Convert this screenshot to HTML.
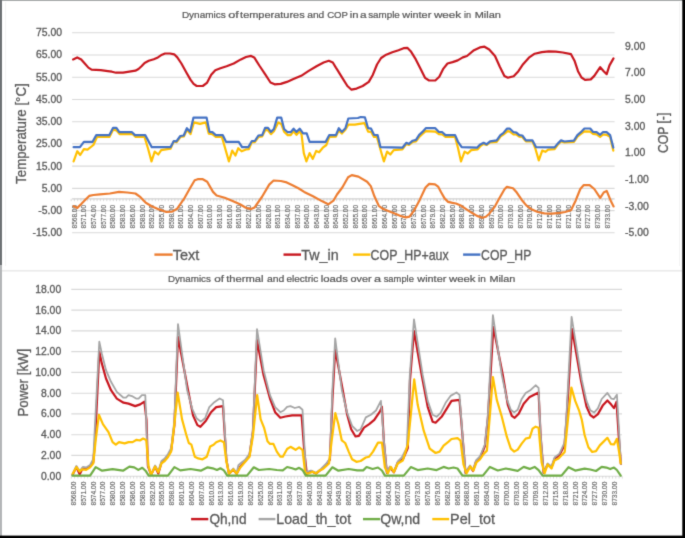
<!DOCTYPE html><html><head><meta charset="utf-8"><style>html,body{margin:0;padding:0;background:#fff;}body{width:685px;height:538px;overflow:hidden;} svg{display:block;} text{font-family:"Liberation Sans", sans-serif;stroke:#595959;stroke-width:0.3px;} text.t{stroke-width:0.24px;} text.c{stroke-width:0.1px;}</style></head><body>
<svg width="685" height="538" viewBox="0 0 685 538">
<defs><filter id="bl" x="0" y="0" width="685" height="538" filterUnits="userSpaceOnUse" color-interpolation-filters="sRGB"><feConvolveMatrix order="3" kernelMatrix="1 6 1 6 36 6 1 6 1" divisor="64" edgeMode="duplicate"/></filter></defs><g filter="url(#bl)">
<rect x="0" y="0" width="685" height="538" fill="#ffffff"/>
<line x1="5.6" y1="2" x2="5.6" y2="266" stroke="#f4f4f4" stroke-width="1"/>
<line x1="679.5" y1="2" x2="679.5" y2="266" stroke="#f3f3f3" stroke-width="1"/>
<line x1="72.1" y1="32.8" x2="614.6" y2="32.8" stroke="#d9d9d9" stroke-width="1.1"/>
<line x1="72.1" y1="55.0" x2="614.6" y2="55.0" stroke="#d9d9d9" stroke-width="1.1"/>
<line x1="72.1" y1="77.2" x2="614.6" y2="77.2" stroke="#d9d9d9" stroke-width="1.1"/>
<line x1="72.1" y1="99.5" x2="614.6" y2="99.5" stroke="#d9d9d9" stroke-width="1.1"/>
<line x1="72.1" y1="121.7" x2="614.6" y2="121.7" stroke="#d9d9d9" stroke-width="1.1"/>
<line x1="72.1" y1="143.9" x2="614.6" y2="143.9" stroke="#d9d9d9" stroke-width="1.1"/>
<line x1="72.1" y1="166.1" x2="614.6" y2="166.1" stroke="#d9d9d9" stroke-width="1.1"/>
<line x1="72.1" y1="188.4" x2="614.6" y2="188.4" stroke="#d9d9d9" stroke-width="1.1"/>
<line x1="72.1" y1="210.6" x2="614.6" y2="210.6" stroke="#d9d9d9" stroke-width="1.1"/>
<line x1="72.1" y1="232.8" x2="614.6" y2="232.8" stroke="#d9d9d9" stroke-width="1.1"/>
<line x1="72.1" y1="198.8" x2="614.6" y2="198.8" stroke="#d0d0d0" stroke-width="1.2"/>
<path d="M71.2 198.8V201.2M74.4 198.8V201.2M77.7 198.8V201.2M80.9 198.8V201.2M84.2 198.8V201.2M87.4 198.8V201.2M90.6 198.8V201.2M93.9 198.8V201.2M97.1 198.8V201.2M100.3 198.8V201.2M103.6 198.8V201.2M106.8 198.8V201.2M110.1 198.8V201.2M113.3 198.8V201.2M116.5 198.8V201.2M119.8 198.8V201.2M123.0 198.8V201.2M126.2 198.8V201.2M129.5 198.8V201.2M132.7 198.8V201.2M136.0 198.8V201.2M139.2 198.8V201.2M142.4 198.8V201.2M145.7 198.8V201.2M148.9 198.8V201.2M152.2 198.8V201.2M155.4 198.8V201.2M158.6 198.8V201.2M161.9 198.8V201.2M165.1 198.8V201.2M168.3 198.8V201.2M171.6 198.8V201.2M174.8 198.8V201.2M178.1 198.8V201.2M181.3 198.8V201.2M184.5 198.8V201.2M187.8 198.8V201.2M191.0 198.8V201.2M194.2 198.8V201.2M197.5 198.8V201.2M200.7 198.8V201.2M204.0 198.8V201.2M207.2 198.8V201.2M210.4 198.8V201.2M213.7 198.8V201.2M216.9 198.8V201.2M220.1 198.8V201.2M223.4 198.8V201.2M226.6 198.8V201.2M229.9 198.8V201.2M233.1 198.8V201.2M236.3 198.8V201.2M239.6 198.8V201.2M242.8 198.8V201.2M246.1 198.8V201.2M249.3 198.8V201.2M252.5 198.8V201.2M255.8 198.8V201.2M259.0 198.8V201.2M262.2 198.8V201.2M265.5 198.8V201.2M268.7 198.8V201.2M272.0 198.8V201.2M275.2 198.8V201.2M278.4 198.8V201.2M281.7 198.8V201.2M284.9 198.8V201.2M288.1 198.8V201.2M291.4 198.8V201.2M294.6 198.8V201.2M297.9 198.8V201.2M301.1 198.8V201.2M304.3 198.8V201.2M307.6 198.8V201.2M310.8 198.8V201.2M314.1 198.8V201.2M317.3 198.8V201.2M320.5 198.8V201.2M323.8 198.8V201.2M327.0 198.8V201.2M330.2 198.8V201.2M333.5 198.8V201.2M336.7 198.8V201.2M340.0 198.8V201.2M343.2 198.8V201.2M346.4 198.8V201.2M349.7 198.8V201.2M352.9 198.8V201.2M356.1 198.8V201.2M359.4 198.8V201.2M362.6 198.8V201.2M365.9 198.8V201.2M369.1 198.8V201.2M372.3 198.8V201.2M375.6 198.8V201.2M378.8 198.8V201.2M382.0 198.8V201.2M385.3 198.8V201.2M388.5 198.8V201.2M391.8 198.8V201.2M395.0 198.8V201.2M398.2 198.8V201.2M401.5 198.8V201.2M404.7 198.8V201.2M408.0 198.8V201.2M411.2 198.8V201.2M414.4 198.8V201.2M417.7 198.8V201.2M420.9 198.8V201.2M424.1 198.8V201.2M427.4 198.8V201.2M430.6 198.8V201.2M433.9 198.8V201.2M437.1 198.8V201.2M440.3 198.8V201.2M443.6 198.8V201.2M446.8 198.8V201.2M450.0 198.8V201.2M453.3 198.8V201.2M456.5 198.8V201.2M459.8 198.8V201.2M463.0 198.8V201.2M466.2 198.8V201.2M469.5 198.8V201.2M472.7 198.8V201.2M475.9 198.8V201.2M479.2 198.8V201.2M482.4 198.8V201.2M485.7 198.8V201.2M488.9 198.8V201.2M492.1 198.8V201.2M495.4 198.8V201.2M498.6 198.8V201.2M501.9 198.8V201.2M505.1 198.8V201.2M508.3 198.8V201.2M511.6 198.8V201.2M514.8 198.8V201.2M518.0 198.8V201.2M521.3 198.8V201.2M524.5 198.8V201.2M527.8 198.8V201.2M531.0 198.8V201.2M534.2 198.8V201.2M537.5 198.8V201.2M540.7 198.8V201.2M543.9 198.8V201.2M547.2 198.8V201.2M550.4 198.8V201.2M553.7 198.8V201.2M556.9 198.8V201.2M560.1 198.8V201.2M563.4 198.8V201.2M566.6 198.8V201.2M569.9 198.8V201.2M573.1 198.8V201.2M576.3 198.8V201.2M579.6 198.8V201.2M582.8 198.8V201.2M586.0 198.8V201.2M589.3 198.8V201.2M592.5 198.8V201.2M595.8 198.8V201.2M599.0 198.8V201.2M602.2 198.8V201.2M605.5 198.8V201.2M608.7 198.8V201.2M611.9 198.8V201.2" stroke="#d0d0d0" stroke-width="0.8"/>
<text x="62" y="36.2" font-size="10.4" text-anchor="end" fill="#595959">75.00</text>
<text x="62" y="58.4" font-size="10.4" text-anchor="end" fill="#595959">65.00</text>
<text x="62" y="80.6" font-size="10.4" text-anchor="end" fill="#595959">55.00</text>
<text x="62" y="102.9" font-size="10.4" text-anchor="end" fill="#595959">45.00</text>
<text x="62" y="125.1" font-size="10.4" text-anchor="end" fill="#595959">35.00</text>
<text x="62" y="147.3" font-size="10.4" text-anchor="end" fill="#595959">25.00</text>
<text x="62" y="169.5" font-size="10.4" text-anchor="end" fill="#595959">15.00</text>
<text x="62" y="191.8" font-size="10.4" text-anchor="end" fill="#595959">5.00</text>
<text x="62" y="214.0" font-size="10.4" text-anchor="end" fill="#595959">-5.00</text>
<text x="62" y="236.2" font-size="10.4" text-anchor="end" fill="#595959">-15.00</text>
<text x="625" y="49.5" font-size="10.4" text-anchor="start" fill="#595959">9.00</text>
<text x="625" y="76.2" font-size="10.4" text-anchor="start" fill="#595959">7.00</text>
<text x="625" y="102.9" font-size="10.4" text-anchor="start" fill="#595959">5.00</text>
<text x="625" y="129.5" font-size="10.4" text-anchor="start" fill="#595959">3.00</text>
<text x="625" y="156.2" font-size="10.4" text-anchor="start" fill="#595959">1.00</text>
<text x="625" y="182.9" font-size="10.4" text-anchor="start" fill="#595959">-1.00</text>
<text x="625" y="209.5" font-size="10.4" text-anchor="start" fill="#595959">-3.00</text>
<text x="625" y="236.2" font-size="10.4" text-anchor="start" fill="#595959">-5.00</text>
<text transform="translate(76.70,228.5) rotate(-90)" font-size="6.6" textLength="23.6" lengthAdjust="spacingAndGlyphs" class="c" fill="#595959">8568.00</text><text transform="translate(86.39,228.5) rotate(-90)" font-size="6.6" textLength="23.6" lengthAdjust="spacingAndGlyphs" class="c" fill="#595959">8571.00</text><text transform="translate(96.09,228.5) rotate(-90)" font-size="6.6" textLength="23.6" lengthAdjust="spacingAndGlyphs" class="c" fill="#595959">8574.00</text><text transform="translate(105.78,228.5) rotate(-90)" font-size="6.6" textLength="23.6" lengthAdjust="spacingAndGlyphs" class="c" fill="#595959">8577.00</text><text transform="translate(115.47,228.5) rotate(-90)" font-size="6.6" textLength="23.6" lengthAdjust="spacingAndGlyphs" class="c" fill="#595959">8580.00</text><text transform="translate(125.17,228.5) rotate(-90)" font-size="6.6" textLength="23.6" lengthAdjust="spacingAndGlyphs" class="c" fill="#595959">8583.00</text><text transform="translate(134.86,228.5) rotate(-90)" font-size="6.6" textLength="23.6" lengthAdjust="spacingAndGlyphs" class="c" fill="#595959">8586.00</text><text transform="translate(144.55,228.5) rotate(-90)" font-size="6.6" textLength="23.6" lengthAdjust="spacingAndGlyphs" class="c" fill="#595959">8589.00</text><text transform="translate(154.24,228.5) rotate(-90)" font-size="6.6" textLength="23.6" lengthAdjust="spacingAndGlyphs" class="c" fill="#595959">8592.00</text><text transform="translate(163.94,228.5) rotate(-90)" font-size="6.6" textLength="23.6" lengthAdjust="spacingAndGlyphs" class="c" fill="#595959">8595.00</text><text transform="translate(173.63,228.5) rotate(-90)" font-size="6.6" textLength="23.6" lengthAdjust="spacingAndGlyphs" class="c" fill="#595959">8598.00</text><text transform="translate(183.32,228.5) rotate(-90)" font-size="6.6" textLength="23.6" lengthAdjust="spacingAndGlyphs" class="c" fill="#595959">8601.00</text><text transform="translate(193.02,228.5) rotate(-90)" font-size="6.6" textLength="23.6" lengthAdjust="spacingAndGlyphs" class="c" fill="#595959">8604.00</text><text transform="translate(202.71,228.5) rotate(-90)" font-size="6.6" textLength="23.6" lengthAdjust="spacingAndGlyphs" class="c" fill="#595959">8607.00</text><text transform="translate(212.40,228.5) rotate(-90)" font-size="6.6" textLength="23.6" lengthAdjust="spacingAndGlyphs" class="c" fill="#595959">8610.00</text><text transform="translate(222.09,228.5) rotate(-90)" font-size="6.6" textLength="23.6" lengthAdjust="spacingAndGlyphs" class="c" fill="#595959">8613.00</text><text transform="translate(231.79,228.5) rotate(-90)" font-size="6.6" textLength="23.6" lengthAdjust="spacingAndGlyphs" class="c" fill="#595959">8616.00</text><text transform="translate(241.48,228.5) rotate(-90)" font-size="6.6" textLength="23.6" lengthAdjust="spacingAndGlyphs" class="c" fill="#595959">8619.00</text><text transform="translate(251.17,228.5) rotate(-90)" font-size="6.6" textLength="23.6" lengthAdjust="spacingAndGlyphs" class="c" fill="#595959">8622.00</text><text transform="translate(260.87,228.5) rotate(-90)" font-size="6.6" textLength="23.6" lengthAdjust="spacingAndGlyphs" class="c" fill="#595959">8625.00</text><text transform="translate(270.56,228.5) rotate(-90)" font-size="6.6" textLength="23.6" lengthAdjust="spacingAndGlyphs" class="c" fill="#595959">8628.00</text><text transform="translate(280.25,228.5) rotate(-90)" font-size="6.6" textLength="23.6" lengthAdjust="spacingAndGlyphs" class="c" fill="#595959">8631.00</text><text transform="translate(289.95,228.5) rotate(-90)" font-size="6.6" textLength="23.6" lengthAdjust="spacingAndGlyphs" class="c" fill="#595959">8634.00</text><text transform="translate(299.64,228.5) rotate(-90)" font-size="6.6" textLength="23.6" lengthAdjust="spacingAndGlyphs" class="c" fill="#595959">8637.00</text><text transform="translate(309.33,228.5) rotate(-90)" font-size="6.6" textLength="23.6" lengthAdjust="spacingAndGlyphs" class="c" fill="#595959">8640.00</text><text transform="translate(319.03,228.5) rotate(-90)" font-size="6.6" textLength="23.6" lengthAdjust="spacingAndGlyphs" class="c" fill="#595959">8643.00</text><text transform="translate(328.72,228.5) rotate(-90)" font-size="6.6" textLength="23.6" lengthAdjust="spacingAndGlyphs" class="c" fill="#595959">8646.00</text><text transform="translate(338.41,228.5) rotate(-90)" font-size="6.6" textLength="23.6" lengthAdjust="spacingAndGlyphs" class="c" fill="#595959">8649.00</text><text transform="translate(348.10,228.5) rotate(-90)" font-size="6.6" textLength="23.6" lengthAdjust="spacingAndGlyphs" class="c" fill="#595959">8652.00</text><text transform="translate(357.80,228.5) rotate(-90)" font-size="6.6" textLength="23.6" lengthAdjust="spacingAndGlyphs" class="c" fill="#595959">8655.00</text><text transform="translate(367.49,228.5) rotate(-90)" font-size="6.6" textLength="23.6" lengthAdjust="spacingAndGlyphs" class="c" fill="#595959">8658.00</text><text transform="translate(377.18,228.5) rotate(-90)" font-size="6.6" textLength="23.6" lengthAdjust="spacingAndGlyphs" class="c" fill="#595959">8661.00</text><text transform="translate(386.88,228.5) rotate(-90)" font-size="6.6" textLength="23.6" lengthAdjust="spacingAndGlyphs" class="c" fill="#595959">8664.00</text><text transform="translate(396.57,228.5) rotate(-90)" font-size="6.6" textLength="23.6" lengthAdjust="spacingAndGlyphs" class="c" fill="#595959">8667.00</text><text transform="translate(406.26,228.5) rotate(-90)" font-size="6.6" textLength="23.6" lengthAdjust="spacingAndGlyphs" class="c" fill="#595959">8670.00</text><text transform="translate(415.95,228.5) rotate(-90)" font-size="6.6" textLength="23.6" lengthAdjust="spacingAndGlyphs" class="c" fill="#595959">8673.00</text><text transform="translate(425.65,228.5) rotate(-90)" font-size="6.6" textLength="23.6" lengthAdjust="spacingAndGlyphs" class="c" fill="#595959">8676.00</text><text transform="translate(435.34,228.5) rotate(-90)" font-size="6.6" textLength="23.6" lengthAdjust="spacingAndGlyphs" class="c" fill="#595959">8679.00</text><text transform="translate(445.03,228.5) rotate(-90)" font-size="6.6" textLength="23.6" lengthAdjust="spacingAndGlyphs" class="c" fill="#595959">8682.00</text><text transform="translate(454.73,228.5) rotate(-90)" font-size="6.6" textLength="23.6" lengthAdjust="spacingAndGlyphs" class="c" fill="#595959">8685.00</text><text transform="translate(464.42,228.5) rotate(-90)" font-size="6.6" textLength="23.6" lengthAdjust="spacingAndGlyphs" class="c" fill="#595959">8688.00</text><text transform="translate(474.11,228.5) rotate(-90)" font-size="6.6" textLength="23.6" lengthAdjust="spacingAndGlyphs" class="c" fill="#595959">8691.00</text><text transform="translate(483.81,228.5) rotate(-90)" font-size="6.6" textLength="23.6" lengthAdjust="spacingAndGlyphs" class="c" fill="#595959">8694.00</text><text transform="translate(493.50,228.5) rotate(-90)" font-size="6.6" textLength="23.6" lengthAdjust="spacingAndGlyphs" class="c" fill="#595959">8697.00</text><text transform="translate(503.19,228.5) rotate(-90)" font-size="6.6" textLength="23.6" lengthAdjust="spacingAndGlyphs" class="c" fill="#595959">8700.00</text><text transform="translate(512.88,228.5) rotate(-90)" font-size="6.6" textLength="23.6" lengthAdjust="spacingAndGlyphs" class="c" fill="#595959">8703.00</text><text transform="translate(522.58,228.5) rotate(-90)" font-size="6.6" textLength="23.6" lengthAdjust="spacingAndGlyphs" class="c" fill="#595959">8706.00</text><text transform="translate(532.27,228.5) rotate(-90)" font-size="6.6" textLength="23.6" lengthAdjust="spacingAndGlyphs" class="c" fill="#595959">8709.00</text><text transform="translate(541.96,228.5) rotate(-90)" font-size="6.6" textLength="23.6" lengthAdjust="spacingAndGlyphs" class="c" fill="#595959">8712.00</text><text transform="translate(551.66,228.5) rotate(-90)" font-size="6.6" textLength="23.6" lengthAdjust="spacingAndGlyphs" class="c" fill="#595959">8715.00</text><text transform="translate(561.35,228.5) rotate(-90)" font-size="6.6" textLength="23.6" lengthAdjust="spacingAndGlyphs" class="c" fill="#595959">8718.00</text><text transform="translate(571.04,228.5) rotate(-90)" font-size="6.6" textLength="23.6" lengthAdjust="spacingAndGlyphs" class="c" fill="#595959">8721.00</text><text transform="translate(580.74,228.5) rotate(-90)" font-size="6.6" textLength="23.6" lengthAdjust="spacingAndGlyphs" class="c" fill="#595959">8724.00</text><text transform="translate(590.43,228.5) rotate(-90)" font-size="6.6" textLength="23.6" lengthAdjust="spacingAndGlyphs" class="c" fill="#595959">8727.00</text><text transform="translate(600.12,228.5) rotate(-90)" font-size="6.6" textLength="23.6" lengthAdjust="spacingAndGlyphs" class="c" fill="#595959">8730.00</text><text transform="translate(609.81,228.5) rotate(-90)" font-size="6.6" textLength="23.6" lengthAdjust="spacingAndGlyphs" class="c" fill="#595959">8733.00</text>
<polyline points="73.6,206.2 77.3,207.9 81.0,204.3 85.1,200.1 89.2,195.9 93.4,195.0 100.0,194.4 109.9,193.5 119.0,191.9 127.2,192.5 135.4,193.5 140.5,197.2 145.8,202.8 151.7,206.2 159.0,209.4 166.3,212.0 172.1,211.6 177.2,208.7 183.8,199.2 190.4,187.5 194.7,180.2 197.7,179.2 202.8,179.2 207.2,181.7 213.0,191.9 216.6,195.5 224.7,197.7 232.0,200.7 240.0,204.3 245.8,207.7 251.0,209.1 254.6,207.4 261.9,197.0 269.2,184.6 273.6,180.5 280.9,181.0 286.7,182.4 292.5,185.2 298.4,188.2 304.2,191.9 313.0,196.3 321.8,201.1 328.3,204.3 333.4,200.7 337.0,194.5 342.3,187.5 348.1,177.3 351.8,175.1 358.4,176.6 367.1,181.7 370.8,186.1 374.4,196.3 378.8,205.8 383.2,209.1 393.4,213.1 400.7,216.0 405.8,217.4 409.5,216.7 413.8,210.9 419.7,199.9 425.5,187.5 429.2,183.9 435.0,184.4 438.1,186.6 441.1,192.3 444.6,198.4 448.1,201.9 452.5,202.9 456.0,203.5 461.3,205.8 466.5,209.3 471.8,212.8 477.0,215.9 482.3,217.8 485.8,216.8 489.3,213.7 495.0,206.3 498.5,199.8 504.5,189.2 506.9,186.9 513.0,188.3 516.8,192.6 521.6,199.7 526.3,205.4 532.0,209.6 537.7,212.0 544.3,213.4 551.9,213.7 560.0,212.8 565.1,212.0 571.0,210.3 575.6,200.7 580.3,189.0 583.8,185.1 589.6,185.1 594.3,189.0 600.2,197.9 603.7,192.5 606.7,190.9 610.7,200.7 613.6,206.4" fill="none" stroke="#ED7D31" stroke-width="2.2" stroke-linejoin="round" stroke-linecap="round"/>
<polyline points="73.1,59.4 77.2,57.4 81.2,59.4 84.3,62.9 88.4,67.6 91.5,69.6 100.7,70.2 107.8,71.1 111.9,71.7 116.0,72.7 123.1,72.7 129.3,71.7 135.4,70.7 138.5,69.0 141.5,66.2 144.6,62.9 148.7,60.8 153.8,59.2 157.9,57.4 162.0,54.7 165.0,53.5 170.1,53.5 174.2,54.3 177.3,57.4 181.4,63.5 186.5,72.7 190.6,79.9 193.6,83.9 196.7,86.0 202.8,86.0 206.9,82.9 211.2,74.7 215.3,70.2 220.4,68.2 226.6,66.2 233.7,63.5 240.9,59.4 246.0,57.0 251.1,55.9 254.2,57.4 259.3,65.5 265.4,74.7 270.5,82.5 274.6,84.3 280.7,83.9 286.9,81.9 294.0,78.8 301.2,75.8 308.3,71.1 316.5,66.2 323.6,62.5 328.8,60.8 332.8,62.5 335.9,67.6 337.2,69.6 342.3,77.8 347.4,86.0 351.5,89.7 356.6,88.6 362.7,86.0 368.8,81.9 372.9,74.7 377.0,64.5 381.1,58.0 386.2,54.7 392.3,52.3 398.5,50.2 403.6,48.2 407.3,47.8 410.7,51.2 415.8,59.4 420.9,69.6 425.0,77.8 429.1,80.5 435.3,80.5 439.3,76.8 443.4,68.6 447.5,63.5 452.6,62.1 457.7,60.4 462.8,57.4 467.0,56.0 474.0,50.2 479.9,47.4 484.5,46.7 489.2,49.5 495.0,56.0 499.7,66.5 504.4,75.9 507.9,77.7 513.7,76.3 518.4,71.2 523.1,64.2 528.9,57.7 534.7,53.7 541.8,52.1 548.8,51.4 555.8,51.6 562.8,52.5 571.0,54.2 574.5,60.7 578.0,71.2 581.5,77.5 585.0,79.8 590.8,79.4 594.3,75.9 600.2,67.2 603.7,71.2 606.7,74.2 609.5,65.4 613.5,58.4" fill="none" stroke="#C8161E" stroke-width="2.2" stroke-linejoin="round" stroke-linecap="round"/>
<polyline points="73.6,161.4 77.3,151.2 80.2,155.0 83.9,149.1 87.5,149.7 93.4,145.0 97.0,137.0 109.4,137.0 113.1,129.7 116.4,130.4 119.6,134.1 132.8,134.1 135.7,137.0 144.5,137.0 148.1,148.7 151.5,161.4 154.7,151.6 158.3,154.5 161.2,150.1 170.5,148.7 173.8,141.4 176.7,142.1 180.3,137.0 184.0,136.3 186.9,129.7 190.5,134.1 193.9,122.4 200.0,123.9 205.9,122.4 208.8,133.6 212.4,134.1 215.8,137.0 221.9,137.0 228.9,161.4 232.2,150.6 235.4,155.5 238.3,148.2 241.6,151.3 246.0,149.4 248.9,149.1 251.9,141.8 254.8,142.1 258.4,137.0 262.2,136.3 265.5,129.7 268.0,130.4 270.9,134.1 273.9,131.2 278.2,122.4 281.2,123.9 284.1,131.6 287.7,135.1 290.7,135.1 293.6,131.2 296.5,134.8 299.7,131.2 301.6,134.8 303.8,153.1 306.4,161.4 309.6,153.1 312.8,158.9 316.2,150.9 319.1,152.3 322.8,147.7 326.4,145.0 329.3,137.0 335.9,136.6 338.8,130.4 341.8,133.6 345.4,129.7 348.3,124.6 354.9,124.6 359.4,123.9 364.5,123.1 368.1,131.6 371.1,131.9 374.0,137.0 376.9,137.0 380.5,149.7 383.9,161.4 387.1,151.6 390.3,154.5 393.7,150.1 402.4,149.4 406.4,143.9 409.0,145.0 412.7,141.8 416.0,141.4 419.2,137.0 422.2,134.1 425.8,131.2 435.3,131.6 438.9,134.1 442.3,134.5 445.5,137.0 452.8,137.0 455.1,137.0 458.0,148.0 461.0,161.4 464.6,151.6 467.8,153.5 471.2,150.1 477.7,149.4 480.7,145.8 483.6,143.9 486.5,145.0 490.1,142.4 496.7,141.8 500.4,136.6 504.0,134.1 507.7,131.2 509.9,131.6 513.5,134.5 516.4,134.5 519.3,136.6 522.3,137.0 525.9,141.4 532.5,141.4 535.4,148.7 538.8,160.4 542.2,150.6 545.4,151.8 548.2,149.7 554.6,149.1 557.5,145.0 561.0,141.5 564.5,142.5 573.9,141.8 577.4,136.6 580.9,133.9 584.4,131.3 590.2,131.6 593.1,133.9 596.6,134.3 600.1,136.9 603.1,134.5 606.6,134.8 610.1,136.9 613.3,150.6" fill="none" stroke="#FFC000" stroke-width="2.2" stroke-linejoin="round" stroke-linecap="round"/>
<polyline points="73.6,147.2 79.9,147.2 83.9,141.8 92.6,141.8 96.3,135.1 109.4,135.1 113.1,127.8 116.4,127.8 119.3,132.2 132.0,132.2 135.0,135.1 145.2,135.1 151.8,147.2 170.5,147.2 173.8,141.0 176.4,141.4 180.3,136.0 183.7,135.5 186.9,128.2 190.1,131.9 193.5,117.6 206.6,117.6 209.5,131.9 212.4,132.2 215.8,135.1 222.7,135.1 226.0,141.8 238.7,141.8 242.1,147.2 248.2,147.2 251.9,141.0 254.8,141.0 258.4,135.5 262.2,135.1 265.1,127.8 268.0,127.8 270.9,131.9 273.9,129.0 277.2,117.6 281.2,117.6 284.1,129.0 287.7,132.2 290.7,132.2 293.6,128.7 296.5,131.9 299.7,128.7 303.1,133.4 306.7,133.4 309.6,141.8 325.7,141.8 329.3,135.1 335.9,135.1 338.8,128.2 341.8,131.9 345.4,128.2 348.3,118.5 357.9,118.0 360.8,117.0 364.9,117.3 368.1,128.2 371.1,128.7 374.0,134.8 377.6,135.1 380.5,147.2 402.4,147.7 406.4,142.8 409.0,143.9 412.7,140.7 416.0,139.9 419.2,134.8 422.2,132.2 425.8,128.2 435.3,128.2 438.9,131.9 442.3,132.2 445.5,135.1 455.1,135.1 458.0,141.8 461.7,147.2 477.0,147.7 479.9,144.7 483.6,142.8 486.5,144.3 490.1,141.4 496.7,140.4 500.4,135.1 503.3,133.1 506.9,128.7 509.9,128.7 513.5,132.2 516.4,132.6 519.3,135.1 522.3,135.5 525.9,140.4 532.5,140.4 536.1,147.2 554.6,147.4 557.5,143.9 561.0,140.4 564.5,141.5 573.9,140.6 577.4,135.1 580.9,132.2 584.4,128.5 590.2,128.5 593.1,132.0 596.6,132.2 600.1,134.8 603.1,132.0 606.6,132.2 610.1,135.1 613.3,147.6" fill="none" stroke="#4472C4" stroke-width="2.2" stroke-linejoin="round" stroke-linecap="round"/>
<text x="181.9" y="17.6" font-size="9.8" text-anchor="start" fill="#595959" textLength="43.9" lengthAdjust="spacingAndGlyphs" class="t">Dynamics</text>
<text x="228.3" y="17.6" font-size="9.8" text-anchor="start" fill="#595959" textLength="10.6" lengthAdjust="spacingAndGlyphs" class="t">of</text>
<text x="240.1" y="17.6" font-size="9.8" text-anchor="start" fill="#595959" textLength="64.6" lengthAdjust="spacingAndGlyphs" class="t">temperatures</text>
<text x="307.2" y="17.6" font-size="9.8" text-anchor="start" fill="#595959" textLength="17.1" lengthAdjust="spacingAndGlyphs" class="t">and</text>
<text x="327.2" y="17.6" font-size="9.8" text-anchor="start" fill="#595959" textLength="20.8" lengthAdjust="spacingAndGlyphs" class="t">COP</text>
<text x="349.8" y="17.6" font-size="9.8" text-anchor="start" fill="#595959" textLength="8.8" lengthAdjust="spacingAndGlyphs" class="t">in</text>
<text x="359.9" y="17.6" font-size="9.8" text-anchor="start" fill="#595959" textLength="6.6" lengthAdjust="spacingAndGlyphs" class="t">a</text>
<text x="368.2" y="17.6" font-size="9.8" text-anchor="start" fill="#595959" textLength="31.6" lengthAdjust="spacingAndGlyphs" class="t">sample</text>
<text x="402.3" y="17.6" font-size="9.8" text-anchor="start" fill="#595959" textLength="29.0" lengthAdjust="spacingAndGlyphs" class="t">winter</text>
<text x="433.9" y="17.6" font-size="9.8" text-anchor="start" fill="#595959" textLength="27.3" lengthAdjust="spacingAndGlyphs" class="t">week</text>
<text x="464.0" y="17.6" font-size="9.8" text-anchor="start" fill="#595959" textLength="7.1" lengthAdjust="spacingAndGlyphs" class="t">in</text>
<text x="474.7" y="17.6" font-size="9.8" text-anchor="start" fill="#595959" textLength="26.2" lengthAdjust="spacingAndGlyphs" class="t">Milan</text>
<text transform="translate(25.9,183.9) rotate(-90)" font-size="14" fill="#595959" textLength="100.6" lengthAdjust="spacingAndGlyphs">Temperature [°C]</text>
<text transform="translate(668.2,153.1) rotate(-90)" font-size="14.5" fill="#595959" textLength="40.4" lengthAdjust="spacingAndGlyphs">COP [-]</text>
<line x1="154.4" y1="254.6" x2="172.6" y2="254.6" stroke="#ED7D31" stroke-width="2.4"/>
<text x="172.8" y="259.6" font-size="14.5" text-anchor="start" fill="#595959" textLength="26.6" lengthAdjust="spacingAndGlyphs">Text</text>
<line x1="283.5" y1="254.6" x2="301.0" y2="254.6" stroke="#C8161E" stroke-width="2.4"/>
<text x="301.3" y="259.6" font-size="14.5" text-anchor="start" fill="#595959" textLength="37.3" lengthAdjust="spacingAndGlyphs">Tw_in</text>
<line x1="353.2" y1="254.6" x2="370.4" y2="254.6" stroke="#FFC000" stroke-width="2.4"/>
<text x="370.6" y="259.6" font-size="14.5" text-anchor="start" fill="#595959" textLength="78.1" lengthAdjust="spacingAndGlyphs">COP_HP+aux</text>
<line x1="463.1" y1="254.6" x2="480.4" y2="254.6" stroke="#4472C4" stroke-width="2.4"/>
<text x="481.1" y="259.6" font-size="14.5" text-anchor="start" fill="#595959" textLength="50.2" lengthAdjust="spacingAndGlyphs">COP_HP</text>
<line x1="71.3" y1="289.4" x2="622.0" y2="289.4" stroke="#d9d9d9" stroke-width="1.1"/>
<line x1="71.3" y1="310.1" x2="622.0" y2="310.1" stroke="#d9d9d9" stroke-width="1.1"/>
<line x1="71.3" y1="330.9" x2="622.0" y2="330.9" stroke="#d9d9d9" stroke-width="1.1"/>
<line x1="71.3" y1="351.6" x2="622.0" y2="351.6" stroke="#d9d9d9" stroke-width="1.1"/>
<line x1="71.3" y1="372.4" x2="622.0" y2="372.4" stroke="#d9d9d9" stroke-width="1.1"/>
<line x1="71.3" y1="393.2" x2="622.0" y2="393.2" stroke="#d9d9d9" stroke-width="1.1"/>
<line x1="71.3" y1="413.9" x2="622.0" y2="413.9" stroke="#d9d9d9" stroke-width="1.1"/>
<line x1="71.3" y1="434.7" x2="622.0" y2="434.7" stroke="#d9d9d9" stroke-width="1.1"/>
<line x1="71.3" y1="455.4" x2="622.0" y2="455.4" stroke="#d9d9d9" stroke-width="1.1"/>
<line x1="71.3" y1="476.2" x2="622.0" y2="476.2" stroke="#d9d9d9" stroke-width="1.1"/>
<path d="M71.3 476.2V478.6M74.6 476.2V478.6M77.9 476.2V478.6M81.1 476.2V478.6M84.4 476.2V478.6M87.7 476.2V478.6M91.0 476.2V478.6M94.3 476.2V478.6M97.5 476.2V478.6M100.8 476.2V478.6M104.1 476.2V478.6M107.4 476.2V478.6M110.7 476.2V478.6M113.9 476.2V478.6M117.2 476.2V478.6M120.5 476.2V478.6M123.8 476.2V478.6M127.1 476.2V478.6M130.3 476.2V478.6M133.6 476.2V478.6M136.9 476.2V478.6M140.2 476.2V478.6M143.5 476.2V478.6M146.7 476.2V478.6M150.0 476.2V478.6M153.3 476.2V478.6M156.6 476.2V478.6M159.9 476.2V478.6M163.1 476.2V478.6M166.4 476.2V478.6M169.7 476.2V478.6M173.0 476.2V478.6M176.3 476.2V478.6M179.5 476.2V478.6M182.8 476.2V478.6M186.1 476.2V478.6M189.4 476.2V478.6M192.7 476.2V478.6M195.9 476.2V478.6M199.2 476.2V478.6M202.5 476.2V478.6M205.8 476.2V478.6M209.1 476.2V478.6M212.3 476.2V478.6M215.6 476.2V478.6M218.9 476.2V478.6M222.2 476.2V478.6M225.5 476.2V478.6M228.7 476.2V478.6M232.0 476.2V478.6M235.3 476.2V478.6M238.6 476.2V478.6M241.9 476.2V478.6M245.1 476.2V478.6M248.4 476.2V478.6M251.7 476.2V478.6M255.0 476.2V478.6M258.3 476.2V478.6M261.5 476.2V478.6M264.8 476.2V478.6M268.1 476.2V478.6M271.4 476.2V478.6M274.7 476.2V478.6M277.9 476.2V478.6M281.2 476.2V478.6M284.5 476.2V478.6M287.8 476.2V478.6M291.1 476.2V478.6M294.3 476.2V478.6M297.6 476.2V478.6M300.9 476.2V478.6M304.2 476.2V478.6M307.5 476.2V478.6M310.7 476.2V478.6M314.0 476.2V478.6M317.3 476.2V478.6M320.6 476.2V478.6M323.9 476.2V478.6M327.1 476.2V478.6M330.4 476.2V478.6M333.7 476.2V478.6M337.0 476.2V478.6M340.3 476.2V478.6M343.5 476.2V478.6M346.8 476.2V478.6M350.1 476.2V478.6M353.4 476.2V478.6M356.7 476.2V478.6M359.9 476.2V478.6M363.2 476.2V478.6M366.5 476.2V478.6M369.8 476.2V478.6M373.1 476.2V478.6M376.3 476.2V478.6M379.6 476.2V478.6M382.9 476.2V478.6M386.2 476.2V478.6M389.5 476.2V478.6M392.7 476.2V478.6M396.0 476.2V478.6M399.3 476.2V478.6M402.6 476.2V478.6M405.9 476.2V478.6M409.1 476.2V478.6M412.4 476.2V478.6M415.7 476.2V478.6M419.0 476.2V478.6M422.3 476.2V478.6M425.5 476.2V478.6M428.8 476.2V478.6M432.1 476.2V478.6M435.4 476.2V478.6M438.7 476.2V478.6M441.9 476.2V478.6M445.2 476.2V478.6M448.5 476.2V478.6M451.8 476.2V478.6M455.1 476.2V478.6M458.3 476.2V478.6M461.6 476.2V478.6M464.9 476.2V478.6M468.2 476.2V478.6M471.5 476.2V478.6M474.7 476.2V478.6M478.0 476.2V478.6M481.3 476.2V478.6M484.6 476.2V478.6M487.9 476.2V478.6M491.1 476.2V478.6M494.4 476.2V478.6M497.7 476.2V478.6M501.0 476.2V478.6M504.3 476.2V478.6M507.5 476.2V478.6M510.8 476.2V478.6M514.1 476.2V478.6M517.4 476.2V478.6M520.7 476.2V478.6M523.9 476.2V478.6M527.2 476.2V478.6M530.5 476.2V478.6M533.8 476.2V478.6M537.1 476.2V478.6M540.3 476.2V478.6M543.6 476.2V478.6M546.9 476.2V478.6M550.2 476.2V478.6M553.5 476.2V478.6M556.7 476.2V478.6M560.0 476.2V478.6M563.3 476.2V478.6M566.6 476.2V478.6M569.9 476.2V478.6M573.1 476.2V478.6M576.4 476.2V478.6M579.7 476.2V478.6M583.0 476.2V478.6M586.3 476.2V478.6M589.5 476.2V478.6M592.8 476.2V478.6M596.1 476.2V478.6M599.4 476.2V478.6M602.7 476.2V478.6M605.9 476.2V478.6M609.2 476.2V478.6M612.5 476.2V478.6M615.8 476.2V478.6M619.1 476.2V478.6M622.3 476.2V478.6" stroke="#d0d0d0" stroke-width="0.8"/>
<text x="61.2" y="292.8" font-size="10.4" text-anchor="end" fill="#595959">18.00</text>
<text x="61.2" y="313.5" font-size="10.4" text-anchor="end" fill="#595959">16.00</text>
<text x="61.2" y="334.3" font-size="10.4" text-anchor="end" fill="#595959">14.00</text>
<text x="61.2" y="355.0" font-size="10.4" text-anchor="end" fill="#595959">12.00</text>
<text x="61.2" y="375.8" font-size="10.4" text-anchor="end" fill="#595959">10.00</text>
<text x="61.2" y="396.6" font-size="10.4" text-anchor="end" fill="#595959">8.00</text>
<text x="61.2" y="417.3" font-size="10.4" text-anchor="end" fill="#595959">6.00</text>
<text x="61.2" y="438.1" font-size="10.4" text-anchor="end" fill="#595959">4.00</text>
<text x="61.2" y="458.8" font-size="10.4" text-anchor="end" fill="#595959">2.00</text>
<text x="61.2" y="479.6" font-size="10.4" text-anchor="end" fill="#595959">0.00</text>
<text transform="translate(75.90,505.5) rotate(-90)" font-size="6.6" textLength="23.8" lengthAdjust="spacingAndGlyphs" class="c" fill="#595959">8568.00</text><text transform="translate(85.74,505.5) rotate(-90)" font-size="6.6" textLength="23.8" lengthAdjust="spacingAndGlyphs" class="c" fill="#595959">8571.00</text><text transform="translate(95.57,505.5) rotate(-90)" font-size="6.6" textLength="23.8" lengthAdjust="spacingAndGlyphs" class="c" fill="#595959">8574.00</text><text transform="translate(105.41,505.5) rotate(-90)" font-size="6.6" textLength="23.8" lengthAdjust="spacingAndGlyphs" class="c" fill="#595959">8577.00</text><text transform="translate(115.24,505.5) rotate(-90)" font-size="6.6" textLength="23.8" lengthAdjust="spacingAndGlyphs" class="c" fill="#595959">8580.00</text><text transform="translate(125.08,505.5) rotate(-90)" font-size="6.6" textLength="23.8" lengthAdjust="spacingAndGlyphs" class="c" fill="#595959">8583.00</text><text transform="translate(134.92,505.5) rotate(-90)" font-size="6.6" textLength="23.8" lengthAdjust="spacingAndGlyphs" class="c" fill="#595959">8586.00</text><text transform="translate(144.75,505.5) rotate(-90)" font-size="6.6" textLength="23.8" lengthAdjust="spacingAndGlyphs" class="c" fill="#595959">8589.00</text><text transform="translate(154.59,505.5) rotate(-90)" font-size="6.6" textLength="23.8" lengthAdjust="spacingAndGlyphs" class="c" fill="#595959">8592.00</text><text transform="translate(164.42,505.5) rotate(-90)" font-size="6.6" textLength="23.8" lengthAdjust="spacingAndGlyphs" class="c" fill="#595959">8595.00</text><text transform="translate(174.26,505.5) rotate(-90)" font-size="6.6" textLength="23.8" lengthAdjust="spacingAndGlyphs" class="c" fill="#595959">8598.00</text><text transform="translate(184.10,505.5) rotate(-90)" font-size="6.6" textLength="23.8" lengthAdjust="spacingAndGlyphs" class="c" fill="#595959">8601.00</text><text transform="translate(193.93,505.5) rotate(-90)" font-size="6.6" textLength="23.8" lengthAdjust="spacingAndGlyphs" class="c" fill="#595959">8604.00</text><text transform="translate(203.77,505.5) rotate(-90)" font-size="6.6" textLength="23.8" lengthAdjust="spacingAndGlyphs" class="c" fill="#595959">8607.00</text><text transform="translate(213.60,505.5) rotate(-90)" font-size="6.6" textLength="23.8" lengthAdjust="spacingAndGlyphs" class="c" fill="#595959">8610.00</text><text transform="translate(223.44,505.5) rotate(-90)" font-size="6.6" textLength="23.8" lengthAdjust="spacingAndGlyphs" class="c" fill="#595959">8613.00</text><text transform="translate(233.28,505.5) rotate(-90)" font-size="6.6" textLength="23.8" lengthAdjust="spacingAndGlyphs" class="c" fill="#595959">8616.00</text><text transform="translate(243.11,505.5) rotate(-90)" font-size="6.6" textLength="23.8" lengthAdjust="spacingAndGlyphs" class="c" fill="#595959">8619.00</text><text transform="translate(252.95,505.5) rotate(-90)" font-size="6.6" textLength="23.8" lengthAdjust="spacingAndGlyphs" class="c" fill="#595959">8622.00</text><text transform="translate(262.78,505.5) rotate(-90)" font-size="6.6" textLength="23.8" lengthAdjust="spacingAndGlyphs" class="c" fill="#595959">8625.00</text><text transform="translate(272.62,505.5) rotate(-90)" font-size="6.6" textLength="23.8" lengthAdjust="spacingAndGlyphs" class="c" fill="#595959">8628.00</text><text transform="translate(282.46,505.5) rotate(-90)" font-size="6.6" textLength="23.8" lengthAdjust="spacingAndGlyphs" class="c" fill="#595959">8631.00</text><text transform="translate(292.29,505.5) rotate(-90)" font-size="6.6" textLength="23.8" lengthAdjust="spacingAndGlyphs" class="c" fill="#595959">8634.00</text><text transform="translate(302.13,505.5) rotate(-90)" font-size="6.6" textLength="23.8" lengthAdjust="spacingAndGlyphs" class="c" fill="#595959">8637.00</text><text transform="translate(311.96,505.5) rotate(-90)" font-size="6.6" textLength="23.8" lengthAdjust="spacingAndGlyphs" class="c" fill="#595959">8640.00</text><text transform="translate(321.80,505.5) rotate(-90)" font-size="6.6" textLength="23.8" lengthAdjust="spacingAndGlyphs" class="c" fill="#595959">8643.00</text><text transform="translate(331.64,505.5) rotate(-90)" font-size="6.6" textLength="23.8" lengthAdjust="spacingAndGlyphs" class="c" fill="#595959">8646.00</text><text transform="translate(341.47,505.5) rotate(-90)" font-size="6.6" textLength="23.8" lengthAdjust="spacingAndGlyphs" class="c" fill="#595959">8649.00</text><text transform="translate(351.31,505.5) rotate(-90)" font-size="6.6" textLength="23.8" lengthAdjust="spacingAndGlyphs" class="c" fill="#595959">8652.00</text><text transform="translate(361.14,505.5) rotate(-90)" font-size="6.6" textLength="23.8" lengthAdjust="spacingAndGlyphs" class="c" fill="#595959">8655.00</text><text transform="translate(370.98,505.5) rotate(-90)" font-size="6.6" textLength="23.8" lengthAdjust="spacingAndGlyphs" class="c" fill="#595959">8658.00</text><text transform="translate(380.82,505.5) rotate(-90)" font-size="6.6" textLength="23.8" lengthAdjust="spacingAndGlyphs" class="c" fill="#595959">8661.00</text><text transform="translate(390.65,505.5) rotate(-90)" font-size="6.6" textLength="23.8" lengthAdjust="spacingAndGlyphs" class="c" fill="#595959">8664.00</text><text transform="translate(400.49,505.5) rotate(-90)" font-size="6.6" textLength="23.8" lengthAdjust="spacingAndGlyphs" class="c" fill="#595959">8667.00</text><text transform="translate(410.32,505.5) rotate(-90)" font-size="6.6" textLength="23.8" lengthAdjust="spacingAndGlyphs" class="c" fill="#595959">8670.00</text><text transform="translate(420.16,505.5) rotate(-90)" font-size="6.6" textLength="23.8" lengthAdjust="spacingAndGlyphs" class="c" fill="#595959">8673.00</text><text transform="translate(430.00,505.5) rotate(-90)" font-size="6.6" textLength="23.8" lengthAdjust="spacingAndGlyphs" class="c" fill="#595959">8676.00</text><text transform="translate(439.83,505.5) rotate(-90)" font-size="6.6" textLength="23.8" lengthAdjust="spacingAndGlyphs" class="c" fill="#595959">8679.00</text><text transform="translate(449.67,505.5) rotate(-90)" font-size="6.6" textLength="23.8" lengthAdjust="spacingAndGlyphs" class="c" fill="#595959">8682.00</text><text transform="translate(459.50,505.5) rotate(-90)" font-size="6.6" textLength="23.8" lengthAdjust="spacingAndGlyphs" class="c" fill="#595959">8685.00</text><text transform="translate(469.34,505.5) rotate(-90)" font-size="6.6" textLength="23.8" lengthAdjust="spacingAndGlyphs" class="c" fill="#595959">8688.00</text><text transform="translate(479.18,505.5) rotate(-90)" font-size="6.6" textLength="23.8" lengthAdjust="spacingAndGlyphs" class="c" fill="#595959">8691.00</text><text transform="translate(489.01,505.5) rotate(-90)" font-size="6.6" textLength="23.8" lengthAdjust="spacingAndGlyphs" class="c" fill="#595959">8694.00</text><text transform="translate(498.85,505.5) rotate(-90)" font-size="6.6" textLength="23.8" lengthAdjust="spacingAndGlyphs" class="c" fill="#595959">8697.00</text><text transform="translate(508.68,505.5) rotate(-90)" font-size="6.6" textLength="23.8" lengthAdjust="spacingAndGlyphs" class="c" fill="#595959">8700.00</text><text transform="translate(518.52,505.5) rotate(-90)" font-size="6.6" textLength="23.8" lengthAdjust="spacingAndGlyphs" class="c" fill="#595959">8703.00</text><text transform="translate(528.36,505.5) rotate(-90)" font-size="6.6" textLength="23.8" lengthAdjust="spacingAndGlyphs" class="c" fill="#595959">8706.00</text><text transform="translate(538.19,505.5) rotate(-90)" font-size="6.6" textLength="23.8" lengthAdjust="spacingAndGlyphs" class="c" fill="#595959">8709.00</text><text transform="translate(548.03,505.5) rotate(-90)" font-size="6.6" textLength="23.8" lengthAdjust="spacingAndGlyphs" class="c" fill="#595959">8712.00</text><text transform="translate(557.86,505.5) rotate(-90)" font-size="6.6" textLength="23.8" lengthAdjust="spacingAndGlyphs" class="c" fill="#595959">8715.00</text><text transform="translate(567.70,505.5) rotate(-90)" font-size="6.6" textLength="23.8" lengthAdjust="spacingAndGlyphs" class="c" fill="#595959">8718.00</text><text transform="translate(577.54,505.5) rotate(-90)" font-size="6.6" textLength="23.8" lengthAdjust="spacingAndGlyphs" class="c" fill="#595959">8721.00</text><text transform="translate(587.37,505.5) rotate(-90)" font-size="6.6" textLength="23.8" lengthAdjust="spacingAndGlyphs" class="c" fill="#595959">8724.00</text><text transform="translate(597.21,505.5) rotate(-90)" font-size="6.6" textLength="23.8" lengthAdjust="spacingAndGlyphs" class="c" fill="#595959">8727.00</text><text transform="translate(607.04,505.5) rotate(-90)" font-size="6.6" textLength="23.8" lengthAdjust="spacingAndGlyphs" class="c" fill="#595959">8730.00</text><text transform="translate(616.88,505.5) rotate(-90)" font-size="6.6" textLength="23.8" lengthAdjust="spacingAndGlyphs" class="c" fill="#595959">8733.00</text>
<polyline points="72.6,474.7 76.4,467.0 79.7,474.2 82.8,468.0 86.1,469.0 90.1,466.5 93.3,462.0 95.1,440.0 99.3,351.7 101.8,363.4 106.0,378.5 111.0,390.2 116.8,398.6 123.5,402.7 128.5,403.6 135.2,406.1 140.2,404.4 144.4,401.6 146.5,420.0 147.9,466.0 151.1,474.7 155.1,466.5 158.3,473.6 161.5,462.5 164.7,460.0 168.0,456.0 171.2,450.0 174.4,425.0 178.0,336.8 188.0,390.0 193.1,415.6 197.4,425.1 200.4,426.8 205.9,420.8 211.0,412.2 216.2,407.1 223.0,406.2 226.4,460.0 229.0,473.8 233.3,469.5 236.7,473.8 240.1,467.0 245.2,461.0 249.5,455.5 252.9,432.0 257.0,340.1 263.6,375.2 270.0,398.5 275.1,412.2 280.3,417.7 285.4,416.5 292.2,415.3 301.6,415.3 304.2,449.8 306.8,473.8 311.0,471.2 316.2,473.4 321.3,469.5 326.4,464.5 329.9,459.5 332.4,400.0 335.2,349.3 342.7,390.0 347.0,413.9 351.2,429.3 355.5,436.5 358.9,435.8 364.0,427.6 369.2,424.2 374.3,419.9 380.0,411.4 381.9,406.8 383.9,442.0 386.9,473.0 389.9,467.5 393.9,472.3 397.8,462.5 402.8,459.5 407.8,448.0 410.0,380.0 414.0,331.0 421.7,375.0 427.7,406.8 432.6,421.7 435.6,422.7 441.6,416.8 446.6,408.8 451.5,400.9 459.5,399.9 462.5,436.0 465.5,473.0 470.0,466.5 473.0,471.0 476.0,461.5 479.9,458.5 484.9,446.0 487.9,418.0 493.4,327.1 502.8,375.0 507.8,404.8 511.8,415.8 514.7,417.8 518.7,413.8 523.7,403.8 529.7,396.9 538.6,392.5 540.6,436.0 543.6,473.0 547.6,464.5 551.5,467.5 554.5,459.0 559.5,455.0 564.5,445.0 566.5,420.0 572.1,329.0 580.9,380.0 586.5,406.5 590.3,415.1 593.7,417.5 597.9,414.1 602.7,405.6 607.4,400.5 611.2,404.6 614.0,408.1 616.5,401.8 618.8,436.9 620.9,464.0" fill="none" stroke="#C8161E" stroke-width="2.2" stroke-linejoin="round" stroke-linecap="round"/>
<polyline points="72.4,474.7 76.4,466.0 79.6,471.0 82.8,467.0 86.1,467.5 90.1,465.0 93.3,459.0 94.2,440.0 99.3,341.7 101.8,353.4 106.0,370.1 111.0,381.8 116.8,391.9 123.5,397.7 126.0,397.7 128.5,395.2 131.9,396.1 136.1,398.6 138.6,398.6 141.9,395.2 145.3,395.2 147.9,465.8 151.1,474.5 155.1,465.5 158.3,471.0 161.5,461.0 164.7,458.5 168.0,454.0 171.2,448.0 174.4,420.0 178.0,324.2 187.1,390.0 192.2,408.8 196.5,418.2 200.8,421.6 205.1,418.2 209.3,407.1 213.6,402.8 219.6,398.5 223.0,400.3 226.4,458.4 229.0,473.8 233.3,468.5 236.7,472.5 238.4,465.2 241.0,463.0 245.2,459.8 249.5,453.7 252.9,430.0 257.0,329.2 263.6,370.2 270.0,395.1 275.1,407.1 280.3,412.2 283.7,410.5 287.1,406.8 290.5,406.2 294.8,408.0 299.1,406.8 302.5,409.7 304.2,441.3 305.9,472.1 311.0,470.5 316.2,472.8 321.3,468.7 326.4,463.5 329.9,458.4 332.4,390.0 335.2,338.4 341.8,390.0 347.0,412.2 352.1,425.9 357.2,431.0 360.6,429.3 365.8,417.4 370.9,414.8 376.0,410.5 380.9,400.9 383.9,440.6 386.9,472.5 389.9,466.5 393.9,471.5 397.8,461.5 401.8,457.5 406.8,447.6 409.8,375.0 414.0,319.3 422.7,375.0 427.7,400.9 432.6,414.8 436.6,416.8 440.6,412.8 445.6,402.8 450.5,395.9 456.5,392.5 459.5,394.9 462.5,434.7 465.5,472.5 470.0,465.5 473.0,470.5 476.0,460.5 479.9,456.5 484.9,444.6 487.9,414.8 492.9,315.1 501.8,375.0 506.8,398.9 510.8,409.8 514.2,412.4 517.7,409.8 521.7,398.9 525.7,392.9 530.7,389.9 535.6,385.3 538.6,387.9 540.6,434.7 543.6,472.5 547.6,463.5 551.5,466.5 554.5,457.5 559.5,453.6 564.5,442.6 566.5,414.8 571.6,316.8 581.8,380.0 586.5,400.9 590.3,410.3 594.1,412.6 597.9,408.4 601.7,399.0 607.4,392.9 611.2,398.6 614.0,399.0 616.9,394.8 618.8,427.4 620.9,464.0" fill="none" stroke="#A5A5A5" stroke-width="1.8" stroke-linejoin="round" stroke-linecap="round"/>
<polyline points="72.7,473.8 76.5,467.1 79.7,471.5 82.0,469.4 84.9,469.7 86.1,469.9 90.1,467.4 93.3,463.4 95.7,440.1 98.9,414.8 102.9,424.1 108.5,432.1 112.6,442.1 115.8,444.6 119.0,442.1 124.6,443.4 128.6,442.1 132.6,442.1 136.6,439.8 139.9,440.5 143.1,438.5 146.2,440.0 148.6,466.0 151.1,474.7 155.1,466.6 158.3,472.3 161.5,463.4 164.7,461.0 168.0,457.0 171.2,451.4 174.4,424.1 177.7,392.6 182.0,419.1 186.2,434.5 188.8,443.0 191.4,444.7 194.8,456.7 198.2,458.4 202.5,459.3 206.8,456.7 210.2,446.4 213.6,444.7 216.2,442.2 220.4,440.4 223.9,442.2 226.4,461.8 229.0,473.8 233.3,469.5 236.7,473.8 240.1,467.8 245.2,461.8 249.5,456.7 252.9,436.2 257.2,395.1 260.6,419.1 264.0,427.6 267.5,441.3 270.0,443.9 273.4,443.9 276.8,451.6 280.3,456.7 282.8,456.7 287.1,449.0 290.5,446.8 295.6,449.8 299.1,447.3 302.5,449.8 305.1,472.1 307.6,473.8 312.7,471.7 316.2,473.4 319.6,470.4 323.0,469.0 329.0,463.5 331.6,441.3 335.3,413.1 338.4,424.2 341.8,440.4 345.2,443.0 348.7,451.6 352.1,459.3 356.4,461.8 360.6,461.0 365.8,457.5 369.2,456.7 373.0,451.6 378.0,442.6 381.9,442.6 384.9,467.5 387.9,473.4 390.9,466.9 393.9,472.1 397.8,463.5 402.8,460.5 407.8,444.6 410.8,414.8 414.2,379.4 417.7,404.8 423.7,430.7 429.7,448.6 435.6,453.0 439.6,451.6 443.6,445.6 448.6,441.6 451.5,439.0 457.5,438.2 460.5,440.6 463.5,464.5 466.5,473.4 470.4,466.5 473.4,470.5 476.4,462.5 479.9,459.5 483.9,453.6 486.9,450.6 489.9,414.8 492.9,377.0 496.8,399.9 501.8,416.8 506.8,436.7 510.8,448.6 514.2,451.6 517.7,449.6 521.7,443.6 525.7,438.6 529.7,437.6 532.6,428.7 535.6,426.7 538.6,427.7 541.6,462.5 544.6,473.4 547.6,464.5 551.5,468.5 554.5,460.5 558.5,458.5 564.7,452.0 568.5,414.1 571.4,387.6 575.2,400.9 579.0,410.3 581.8,419.8 584.6,435.0 588.4,447.3 592.2,452.0 596.0,451.1 599.8,445.4 603.6,441.6 607.4,437.8 610.8,444.1 614.0,444.5 616.9,438.8 619.1,452.0 620.7,463.4" fill="none" stroke="#FFC000" stroke-width="2.2" stroke-linejoin="round" stroke-linecap="round"/>
<polyline points="72.4,475.6 90.1,475.6 95.7,467.1 102.1,470.7 112.6,469.1 123.0,470.7 129.4,466.6 134.2,467.4 138.3,469.9 142.3,467.8 145.5,470.7 148.7,475.6 168.0,475.6 174.4,467.1 180.3,470.4 190.5,469.0 200.8,470.7 207.6,467.3 212.7,468.3 217.0,470.0 220.4,468.3 223.9,470.4 227.3,475.6 247.0,475.6 253.8,467.3 258.9,470.0 269.2,469.0 276.8,470.0 282.8,470.4 287.1,467.0 292.2,468.3 295.6,469.5 299.1,467.8 302.5,470.0 305.9,475.6 325.6,475.6 332.4,467.3 338.4,470.7 348.7,469.0 357.2,470.4 363.2,470.4 366.6,467.0 372.6,469.0 378.0,467.5 381.9,470.5 384.9,475.6 403.8,475.6 410.8,467.1 417.7,470.1 427.7,468.5 436.6,470.1 443.6,466.9 448.6,468.5 453.5,467.5 457.5,468.5 462.5,475.6 482.9,475.6 489.9,466.9 497.8,470.5 505.8,468.5 517.7,470.9 523.7,466.9 529.7,468.9 534.6,466.9 538.6,470.1 542.6,475.6 561.5,475.6 568.5,467.2 575.2,470.6 584.6,468.7 590.3,469.5 596.0,471.0 601.7,466.8 606.4,467.6 610.2,469.1 614.0,467.6 616.9,470.0 620.7,475.6" fill="none" stroke="#70AD47" stroke-width="2.2" stroke-linejoin="round" stroke-linecap="round"/>
<text x="167.9" y="281.8" font-size="9.9" text-anchor="start" fill="#595959" textLength="43.0" lengthAdjust="spacingAndGlyphs" class="t">Dynamics</text>
<text x="214.3" y="281.8" font-size="9.9" text-anchor="start" fill="#595959" textLength="9.8" lengthAdjust="spacingAndGlyphs" class="t">of</text>
<text x="226.2" y="281.8" font-size="9.9" text-anchor="start" fill="#595959" textLength="37.3" lengthAdjust="spacingAndGlyphs" class="t">thermal</text>
<text x="266.9" y="281.8" font-size="9.9" text-anchor="start" fill="#595959" textLength="17.4" lengthAdjust="spacingAndGlyphs" class="t">and</text>
<text x="286.5" y="281.8" font-size="9.9" text-anchor="start" fill="#595959" textLength="31.7" lengthAdjust="spacingAndGlyphs" class="t">electric</text>
<text x="320.7" y="281.8" font-size="9.9" text-anchor="start" fill="#595959" textLength="27.2" lengthAdjust="spacingAndGlyphs" class="t">loads</text>
<text x="350.5" y="281.8" font-size="9.9" text-anchor="start" fill="#595959" textLength="21.1" lengthAdjust="spacingAndGlyphs" class="t">over</text>
<text x="374.1" y="281.8" font-size="9.9" text-anchor="start" fill="#595959" textLength="7.1" lengthAdjust="spacingAndGlyphs" class="t">a</text>
<text x="383.7" y="281.8" font-size="9.9" text-anchor="start" fill="#595959" textLength="30.2" lengthAdjust="spacingAndGlyphs" class="t">sample</text>
<text x="417.3" y="281.8" font-size="9.9" text-anchor="start" fill="#595959" textLength="29.0" lengthAdjust="spacingAndGlyphs" class="t">winter</text>
<text x="449.0" y="281.8" font-size="9.9" text-anchor="start" fill="#595959" textLength="26.5" lengthAdjust="spacingAndGlyphs" class="t">week</text>
<text x="478.0" y="281.8" font-size="9.9" text-anchor="start" fill="#595959" textLength="7.8" lengthAdjust="spacingAndGlyphs" class="t">in</text>
<text x="489.4" y="281.8" font-size="9.9" text-anchor="start" fill="#595959" textLength="26.0" lengthAdjust="spacingAndGlyphs" class="t">Milan</text>
<text transform="translate(28.2,416.6) rotate(-90)" font-size="13.8" fill="#595959" textLength="67.9" lengthAdjust="spacingAndGlyphs">Power [kW]</text>
<line x1="191.1" y1="519.1" x2="208.3" y2="519.1" stroke="#C8161E" stroke-width="2.4"/>
<text x="209.4" y="524.1" font-size="14.5" text-anchor="start" fill="#595959" textLength="37.1" lengthAdjust="spacingAndGlyphs">Qh,nd</text>
<line x1="258.6" y1="519.1" x2="275.4" y2="519.1" stroke="#A5A5A5" stroke-width="2.4"/>
<text x="276.3" y="524.1" font-size="14.5" text-anchor="start" fill="#595959" textLength="74.8" lengthAdjust="spacingAndGlyphs">Load_th_tot</text>
<line x1="363.0" y1="519.1" x2="380.0" y2="519.1" stroke="#70AD47" stroke-width="2.4"/>
<text x="380.2" y="524.1" font-size="14.5" text-anchor="start" fill="#595959" textLength="39.9" lengthAdjust="spacingAndGlyphs">Qw,nd</text>
<line x1="432.3" y1="519.1" x2="449.2" y2="519.1" stroke="#FFC000" stroke-width="2.4"/>
<text x="450.1" y="524.1" font-size="14.5" text-anchor="start" fill="#595959" textLength="44.8" lengthAdjust="spacingAndGlyphs">Pel_tot</text>
<rect x="0" y="0" width="685" height="1" fill="#a6a9a9"/>
<rect x="0" y="0" width="2" height="265" fill="#6e7275"/>
<rect x="0" y="265" width="2" height="273" fill="#b4b6b8"/>
<rect x="2" y="270.3" width="680" height="1.1" fill="#e2e2e2"/>
<rect x="682.3" y="0" width="3" height="538" fill="#000"/>
<rect x="0" y="535.6" width="685" height="3" fill="#000"/>
</g></svg></body></html>
